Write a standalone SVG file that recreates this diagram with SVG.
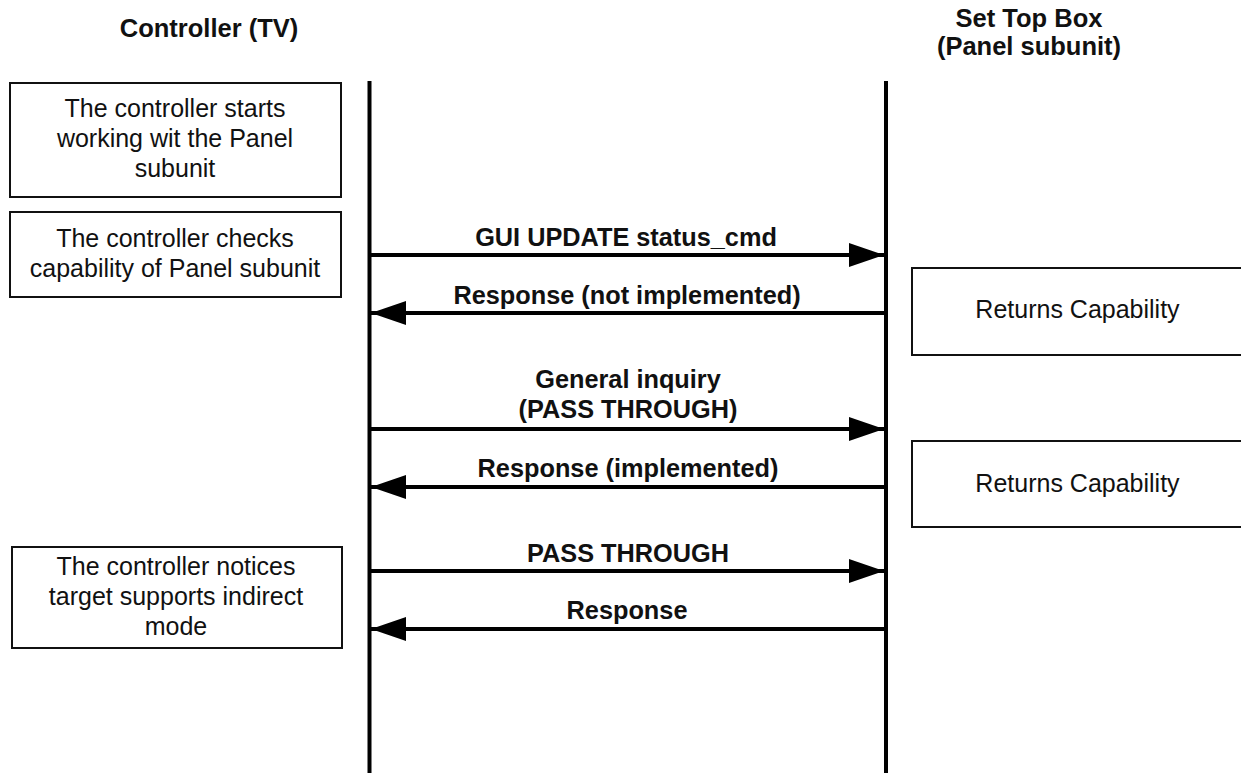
<svg xmlns="http://www.w3.org/2000/svg" width="1241" height="773" viewBox="0 0 1241 773">
  <style>
    text { font-family: "Liberation Sans", Arial, sans-serif; fill: #111; text-anchor: middle; }
    .hd { font-size: 25.5px; font-weight: bold; }
    .lb { font-size: 25.3px; font-weight: bold; }
    .bx { font-size: 25px; }
    .box { fill: #fff; stroke: #111; stroke-width: 2; }
    .life { stroke: #000; stroke-width: 4; fill: none; }
    .msg { stroke: #000; stroke-width: 4; fill: none; marker-end: url(#ah); }
  </style>
  <defs>
    <marker id="ah" markerUnits="userSpaceOnUse" markerWidth="35" markerHeight="24" refX="35" refY="12" orient="auto">
      <path d="M0,0 L35,12 L0,24 Z" fill="#000"/>
    </marker>
  </defs>
  <rect width="1241" height="773" fill="#fff"/>

  <g id="controller-head">
    <text class="hd" x="209" y="37">Controller (TV)</text>
  </g>
  <g id="stb-head">
    <text class="hd" x="1029" y="27">Set Top Box</text>
    <text class="hd" x="1029" y="55">(Panel subunit)</text>
  </g>

  <g id="lifelines">
    <line class="life" x1="369.5" y1="81" x2="369.5" y2="773"/>
    <line class="life" x1="886" y1="81" x2="886" y2="773"/>
  </g>

  <g id="note-start">
    <rect class="box" x="10" y="83" width="331" height="114"/>
    <text class="bx" x="175" y="117">The controller starts</text>
    <text class="bx" x="175" y="147">working wit the Panel</text>
    <text class="bx" x="175" y="177">subunit</text>
  </g>
  <g id="note-checks">
    <rect class="box" x="10" y="212" width="331" height="85"/>
    <text class="bx" x="175" y="247">The controller checks</text>
    <text class="bx" x="175" y="277">capability of Panel subunit</text>
  </g>
  <g id="note-notices">
    <rect class="box" x="12" y="547" width="330" height="101"/>
    <text class="bx" x="176" y="575">The controller notices</text>
    <text class="bx" x="176" y="605">target supports indirect</text>
    <text class="bx" x="176" y="635">mode</text>
  </g>
  <g id="returns-1">
    <rect class="box" x="912" y="268" width="331" height="87"/>
    <text class="bx" x="1077.5" y="318">Returns Capability</text>
  </g>
  <g id="returns-2">
    <rect class="box" x="912" y="441" width="331" height="86"/>
    <text class="bx" x="1077.5" y="492">Returns Capability</text>
  </g>

  <g id="connectors">
    <line class="msg" x1="371" y1="255" x2="884" y2="255"/>
    <line class="msg" x1="884" y1="313" x2="371" y2="313"/>
    <line class="msg" x1="371" y1="429" x2="884" y2="429"/>
    <line class="msg" x1="884" y1="487" x2="371" y2="487"/>
    <line class="msg" x1="371" y1="571" x2="884" y2="571"/>
    <line class="msg" x1="884" y1="629" x2="371" y2="629"/>
    <text class="lb" x="626" y="246">GUI UPDATE status_cmd</text>
    <text class="lb" x="627" y="304">Response (not implemented)</text>
    <text class="lb" x="628" y="388">General inquiry</text>
    <text class="lb" x="628" y="418">(PASS THROUGH)</text>
    <text class="lb" x="628" y="477">Response (implemented)</text>
    <text class="lb" x="628" y="562">PASS THROUGH</text>
    <text class="lb" x="627" y="619">Response</text>
  </g>
</svg>
